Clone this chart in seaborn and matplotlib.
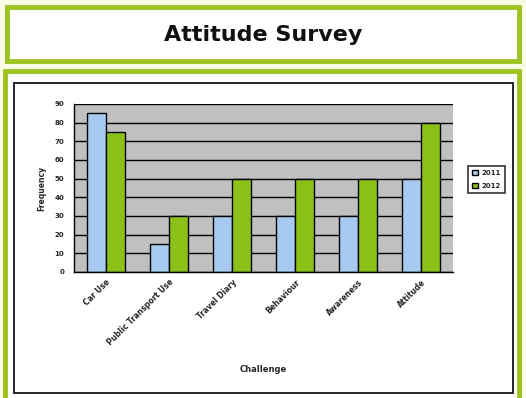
import matplotlib
matplotlib.use("Agg")
import matplotlib.pyplot as plt
import seaborn as sns
import pandas as pd
import numpy as np
from matplotlib.patches import Rectangle

categories = ["Car Use", "Public Transport Use", "Travel Diary", "Behaviour", "Awareness", "Attitude"]
years = ["2011", "2012"]
values_2011 = [85, 15, 30, 30, 30, 50]
values_2012 = [75, 30, 50, 50, 50, 80]
y_ticks = [0, 10, 20, 30, 40, 50, 60, 70, 80, 90]

df = pd.DataFrame({
    "Challenge": categories * 2,
    "Year": [years[0]] * len(categories) + [years[1]] * len(categories),
    "Frequency": values_2011 + values_2012,
})

sns.set_theme(style="white")
plt.rcParams["font.family"] = ["DejaVu Sans"]

W, H = 526, 398
fig = plt.figure(figsize=(W / 100, H / 100), dpi=100)
fig.patch.set_facecolor("#fafce6")

green = "#9cc321"

def frect(x0, y0, x1, y1, z, **kw):
    r = Rectangle((x0 / W, 1 - y1 / H), (x1 - x0) / W, (y1 - y0) / H,
                  transform=fig.transFigure, zorder=z, **kw)
    fig.add_artist(r)

# title box
frect(7, 7, 519, 61, -3, facecolor="white", edgecolor=green, linewidth=3.5)
fig.text(263 / W, 1 - 35 / H, "Attitude Survey", ha="center", va="center",
         fontsize=16, fontweight="bold", color="#111111")
# chart box
frect(5, 71, 519, 402, -3, facecolor="white", edgecolor=green, linewidth=3.5)
frect(14, 83, 513, 393, -2, facecolor="white", edgecolor="black", linewidth=1.2)

ax = fig.add_axes([74 / W, 1 - 272 / H, 379 / W, 168 / H])
ax.set_facecolor("#c0c0c0")
sns.barplot(data=df, x="Challenge", y="Frequency", hue="Year",
            palette=["#a6caf0", "#8cc11a"], width=0.6, gap=0,
            edgecolor="black", linewidth=1.0, saturation=1, ax=ax)

ax.set_ylim(0, 90)
ax.set_xlim(-0.5, len(categories) - 0.5)
ax.set_yticks(y_ticks)
ax.set_yticklabels([str(t) for t in y_ticks], fontsize=5, fontweight="bold")
ax.grid(axis="y", color="black", linewidth=1.0)
ax.set_axisbelow(True)
ax.set_xticks(range(len(categories)))
ax.set_xticklabels(categories, rotation=45, ha="right", rotation_mode="anchor",
                   fontsize=5.5, fontweight="bold")
ax.set_xticks(np.arange(-0.5, len(categories)), minor=True)
ax.tick_params(axis="x", which="major", length=0, pad=4)
ax.tick_params(axis="x", which="minor", length=4, width=0.9, color="black", direction="out")
ax.tick_params(axis="y", length=4, width=0.9, color="black", direction="out", pad=3)
for s in ["top", "right"]:
    ax.spines[s].set_visible(False)
for s in ["left", "bottom"]:
    ax.spines[s].set_color("black")
    ax.spines[s].set_linewidth(1.0)
ax.set_ylabel("Frequency", fontsize=5.5, fontweight="bold", labelpad=6)
ax.set_xlabel("Challenge", fontsize=6, fontweight="bold", labelpad=13)

leg = ax.legend(loc="center left", bbox_to_anchor=(1.03, 0.55), fontsize=5,
                frameon=True, fancybox=False, edgecolor="black",
                handlelength=0.9, handleheight=0.7, borderpad=0.6, labelspacing=1.0,
                handletextpad=0.4)
leg.get_frame().set_linewidth(1.2)
leg.get_frame().set_facecolor("white")
for t in leg.get_texts():
    t.set_fontweight("bold")

fig.savefig("out.png", dpi=100, facecolor=fig.get_facecolor())
